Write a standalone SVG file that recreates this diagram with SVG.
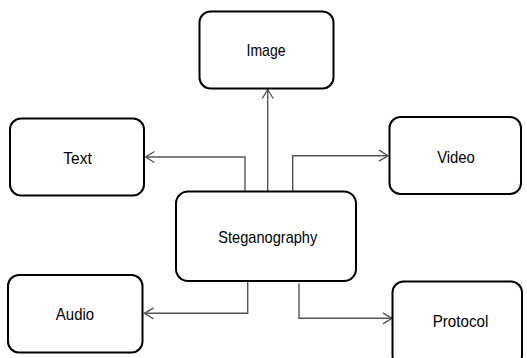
<svg xmlns="http://www.w3.org/2000/svg" width="527" height="358" viewBox="0 0 527 358">
<defs>
<style>
.box{fill:#fff;stroke:#000;stroke-width:2}
.lbl{font-family:"Liberation Sans",Arial,sans-serif;font-size:17px;fill:#000;text-anchor:middle}
.con{fill:none;stroke:#555;stroke-width:1.4}
</style>
<marker id="arr" markerUnits="userSpaceOnUse" markerWidth="14" markerHeight="14" refX="10" refY="6" orient="auto" viewBox="0 0 14 12">
<polyline points="1,0.5 10,6 1,11.5" fill="none" stroke="#555" stroke-width="1.4"/>
</marker>
</defs>
<rect width="527" height="358" fill="#fff"/>
<g id="connectors">
<path class="con" d="M267.7,191 V89.5" marker-end="url(#arr)"/>
<path class="con" d="M245,191 V157 H145.5" marker-end="url(#arr)"/>
<path class="con" d="M292.7,191 V155.7 H388" marker-end="url(#arr)"/>
<path class="con" d="M247.7,282 V313.3 H144.5" marker-end="url(#arr)"/>
<path class="con" d="M299,283.5 V318.3 H392" marker-end="url(#arr)"/>
</g>
<g id="image"><rect class="box" x="199.5" y="11.5" width="134" height="77" rx="11"/><text class="lbl" x="266" y="56" textLength="39" lengthAdjust="spacingAndGlyphs">Image</text></g>
<g id="text"><rect class="box" x="10" y="118.5" width="134" height="77" rx="11"/><text class="lbl" x="77.5" y="164" textLength="28.4" lengthAdjust="spacingAndGlyphs">Text</text></g>
<g id="video"><rect class="box" x="389.5" y="117" width="131.5" height="77" rx="11"/><text class="lbl" x="456" y="162.7" textLength="37.7" lengthAdjust="spacingAndGlyphs">Video</text></g>
<g id="steganography"><rect class="box" x="176" y="191.5" width="180" height="89.5" rx="12"/><text class="lbl" x="267.8" y="243.3" textLength="99" lengthAdjust="spacingAndGlyphs">Steganography</text></g>
<g id="audio"><rect class="box" x="8" y="275" width="134.5" height="77.5" rx="11"/><text class="lbl" x="75" y="320" textLength="38.3" lengthAdjust="spacingAndGlyphs">Audio</text></g>
<g id="protocol"><rect class="box" x="392.5" y="281.5" width="129.5" height="85" rx="11"/><text class="lbl" x="460.5" y="326.7" textLength="55.6" lengthAdjust="spacingAndGlyphs">Protocol</text></g>
</svg>
